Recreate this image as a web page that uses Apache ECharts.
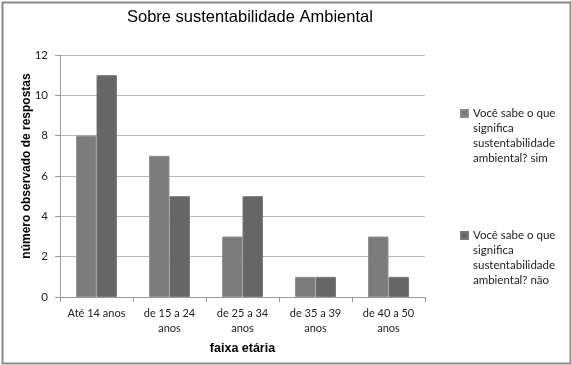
<!DOCTYPE html>
<html><head><meta charset="utf-8">
<script src="https://cdn.jsdelivr.net/npm/echarts@6/dist/echarts.min.js"></script>
<style>html,body{margin:0;padding:0;background:#fff}#c{width:571px;height:365px}</style>
</head><body><div id="c"></div>
<script>
const categories = ['Até 14 anos', 'de 15 a 24\nanos', 'de 25 a 34\nanos', 'de 35 a 39\nanos', 'de 40 a 50\nanos'];
const simValues = [8, 7, 3, 1, 3];
const naoValues = [11, 5, 5, 1, 1];
const seriesNames = ['Você sabe o que\nsignifica\nsustentabilidade\nambiental? sim', 'Você sabe o que\nsignifica\nsustentabilidade\nambiental? não'];
const yTicks = { min: 0, max: 12, interval: 2 };

const chart = echarts.init(document.getElementById('c'), null, { renderer: 'canvas' });
const labelFont = 'Lato';
chart.setOption({
  animation: false,
  backgroundColor: '#fff',
  title: {
    text: 'Sobre sustentabilidade Ambiental',
    left: 127, top: 9, padding: 0,
    textStyle: { fontFamily: 'Liberation Sans', fontSize: 16.5, fontWeight: 'normal', color: '#000' }
  },
  grid: { left: 60, right: 146, top: 55, bottom: 68, containLabel: false },
  legend: {
    orient: 'vertical', left: 460, top: 61, padding: 0,
    itemWidth: 7, itemHeight: 7, itemGap: 17,
    icon: 'rect',
    formatter: function (name) { return '\n\n\n' + name; },
    textStyle: { fontFamily: labelFont, fontSize: 11.5, color: '#222', lineHeight: 15 },
    data: seriesNames
  },
  xAxis: {
    type: 'category', data: categories,
    name: 'faixa etária', nameLocation: 'middle', nameGap: 45, nameMoveOverlap: false,
    nameTextStyle: { fontFamily: 'Liberation Sans', fontSize: 12.5, fontWeight: 'bold', color: '#000' },
    axisLine: { lineStyle: { color: '#9a9a9a' } },
    axisTick: { show: true, length: 5, lineStyle: { color: '#9a9a9a' } },
    axisLabel: { fontFamily: labelFont, fontSize: 11, color: '#222', margin: 9, lineHeight: 15, interval: 0 }
  },
  yAxis: {
    type: 'value', min: yTicks.min, max: yTicks.max, interval: yTicks.interval,
    name: 'número observado de respostas', nameLocation: 'middle', nameGap: 27, nameRotate: 90,
    nameMoveOverlap: false,
    nameTextStyle: { fontFamily: 'Liberation Sans', fontSize: 12, fontWeight: 'bold', color: '#000', padding: [0, 0, 0, 20] },
    axisLine: { show: true, lineStyle: { color: '#9a9a9a' } },
    axisTick: { show: true, length: 5, lineStyle: { color: '#9a9a9a' } },
    axisLabel: { fontFamily: labelFont, fontSize: 11.5, color: '#222', margin: 12 },
    splitLine: { lineStyle: { color: '#b5b5b5' } }
  },
  series: [
    { name: seriesNames[0], type: 'bar', data: simValues, barGap: '0%', barCategoryGap: '44%',
      itemStyle: { color: '#7c7c7c', borderColor: '#8e8e8e', borderWidth: 1 } },
    { name: seriesNames[1], type: 'bar', data: naoValues, barGap: '0%', barCategoryGap: '44%',
      itemStyle: { color: '#666666', borderColor: '#787878', borderWidth: 1 } }
  ],
  graphic: [
    { type: 'rect', left: 0, top: 0, shape: { x: 1, y: 1, width: 568, height: 361 }, z: -1,
      style: { fill: 'none', stroke: '#8a8a8a', lineWidth: 2 } }
  ]
});
</script></body></html>
